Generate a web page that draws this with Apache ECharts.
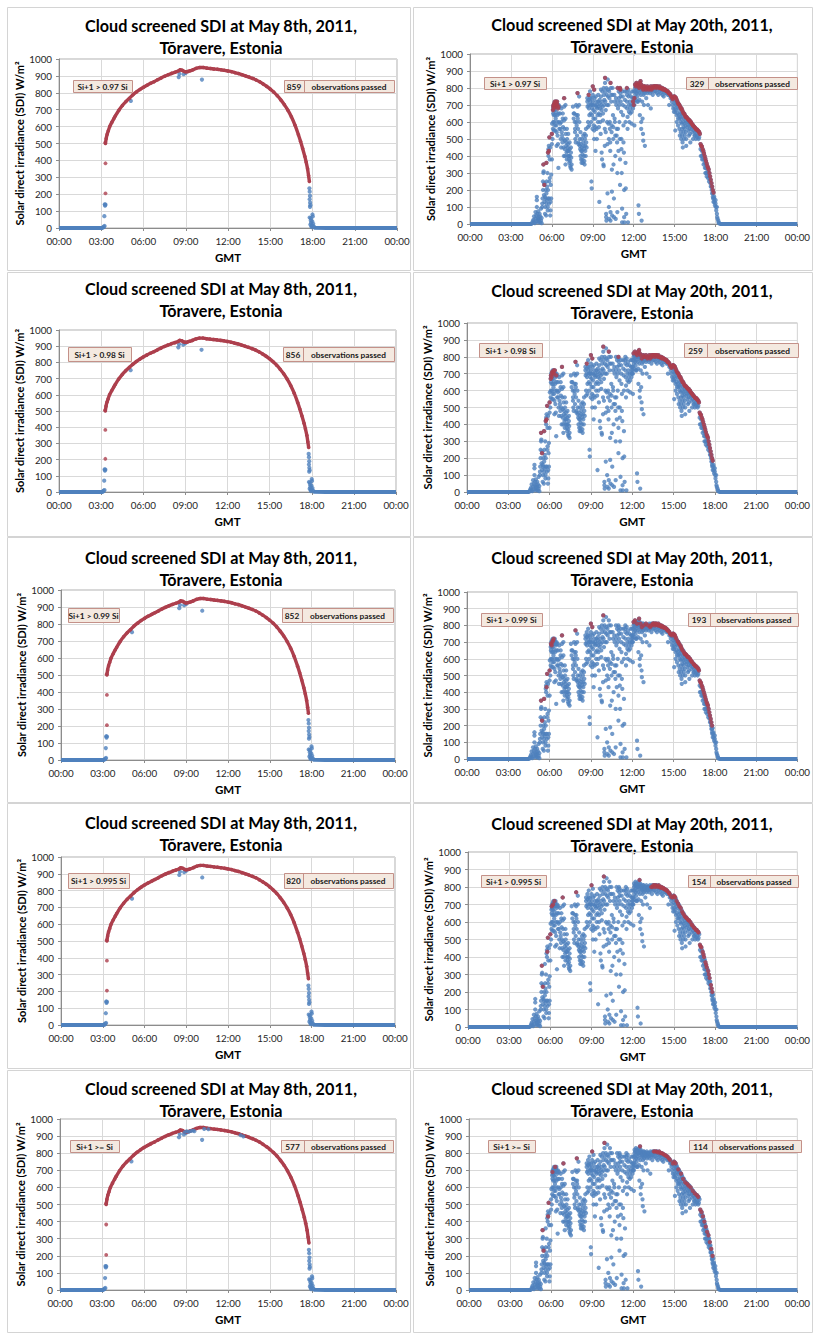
<!DOCTYPE html>
<html><head><meta charset="utf-8">
<script src="https://cdn.jsdelivr.net/npm/echarts/dist/echarts.min.js"></script>
<style>html,body{margin:0;padding:0;background:#fff}#c{width:813px;height:1334px}</style>
</head><body><div id="c"></div><script>
// ---------------- DATA ----------------
const xTickLabels = ['00:00','03:00','06:00','09:00','12:00','15:00','18:00','21:00','00:00'];
const yAxisName = 'Solar direct irradiance (SDI) W/m\u00B2';
const xAxisName = 'GMT';
const titleMay8 = 'Cloud screened SDI at May 8th, 2011,\nT\u00F5ravere, Estonia';
const titleMay20 = 'Cloud screened SDI at May 20th, 2011,\nT\u00F5ravere, Estonia';
const criteria = ['Si+1 > 0.97 Si','Si+1 > 0.98 Si','Si+1 > 0.99 Si','Si+1 > 0.995 Si','Si+1 >= Si'];
const passedMay8 = [859,856,852,820,577];
const passedMay20 = [329,259,193,154,114];
const passedLabel = 'observations passed';

// May 8th (clear day): night baselines, clear-sky curve (passed), outliers
const may8NightAM = [[0,0],[1,0],[2,0],[3.05,0],[3.15,3],[3.2,8]];
const may8NightPM = [[18.1,5],[18.2,1],[19,0],[21,0],[24,0]];
const may8Curve = [[3.3,500],[3.35,530],[3.42,555],[3.5,575],[3.6,600],[3.75,625],[3.9,648],[4.0,663],[4.25,697],[4.5,725],[4.75,748],[5.0,768],[5.25,788],[5.5,805],[5.75,820],[6.0,833],[6.25,845],[6.5,856],[6.75,866],[7.0,877],[7.25,888],[7.5,898],[7.75,907],[8.0,915],[8.25,922],[8.5,930],[8.6,936],[8.75,933],[8.9,926],[9.0,924],[9.15,926],[9.3,930],[9.5,936],[9.75,945],[10.0,950],[10.25,950],[10.5,946],[10.75,944],[11.0,941],[11.25,939],[11.5,936],[11.75,933],[12.0,929],[12.25,925],[12.5,919],[12.75,914],[13.0,907],[13.25,900],[13.5,893],[13.75,885],[14.0,876],[14.25,865],[14.5,852],[14.75,838],[15.0,822],[15.25,804],[15.5,783],[15.75,758],[16.0,730],[16.25,697],[16.5,658],[16.75,610],[17.0,552],[17.15,513],[17.3,470],[17.45,425],[17.55,390],[17.65,350],[17.72,310],[17.78,275]];
const may8RedOut = [[3.3,383],[3.3,205],[3.28,505]];
const may8BlueOut = [[3.22,70],[3.25,140],[3.27,132],[3.3,138],[3.18,8],[3.24,12],[5.1,752],[8.5,893],[8.55,912],[8.85,910],[9.0,918],[10.15,878],[17.78,235],[17.8,215],[17.82,190],[17.8,170],[17.83,150],[17.85,135],[17.82,125],[17.8,62],[17.88,58],[18.0,80],[18.02,68],[17.98,40],[17.9,30],[17.85,20],[17.92,12],[18.05,25],[18.08,8],[17.95,5],[17.88,45],[18.0,15]];
const may8BlueTopStrict = [[8.9,922],[9.05,928],[9.2,925],[9.35,930],[9.5,932],[9.6,928],[10.3,942],[10.6,940],[12.9,905],[13.1,898]];

// May 20th (cloudy day)
const may20NightAM = [[0,0],[2,0],[4.5,0],[4.55,3]];
const may20NightPM = [[18.25,4],[18.35,0],[21,0],[24,0]];
const may20Blue = [
[4.55,5],[4.6,15],[4.65,25],[4.7,10],[4.7,45],[4.75,5],[4.8,30],[4.8,70],[4.85,15],[4.85,50],[4.9,100],[4.9,140],[4.9,160],[4.95,35],[4.95,60],[5.0,10],[5.0,25],[5.0,75],[5.05,40],[5.05,15],[5.1,30],[5.1,60],[5.15,10],[5.15,45],[5.2,20],[5.2,90],[5.25,5],[5.25,35],
[5.3,100],[5.3,120],[5.32,150],[5.35,200],[5.35,250],[5.38,300],[5.4,310],[5.42,170],[5.45,130],[5.45,240],[5.5,160],[5.5,60],[5.52,100],[5.55,150],[5.55,200],[5.58,50],[5.6,120],[5.6,180],[5.62,250],[5.65,140],[5.65,220],[5.68,300],[5.7,80],[5.7,100],[5.72,150],[5.72,200],[5.75,400],[5.75,440],[5.78,460],[5.8,120],[5.8,150],[5.82,250],[5.85,270],[5.85,380],[5.88,50],[5.88,450],[5.9,80],[5.9,130],[5.92,230],[5.95,290],[5.95,150],[6.0,380],[6.0,470],[6.02,590],
[6.05,500],[6.08,560],[6.1,600],[6.1,650],[6.12,680],[6.15,550],[6.15,640],[6.18,600],[6.2,670],[6.2,690],[6.22,580],[6.25,640],[6.25,550],[6.28,620],[6.3,660],[6.3,700],[6.32,580],[6.35,540],[6.35,460],[6.38,690],[6.4,640],[6.4,600],[6.42,520],[6.45,470],[6.48,330],[6.5,700],[6.5,650],[6.52,600],[6.55,560],[6.58,690],[6.6,650],[6.6,590],[6.62,560],[6.65,500],[6.68,450],[6.7,680],[6.7,600],[6.72,540],[6.75,520],[6.78,480],[6.8,650],[6.8,620],[6.82,570],[6.85,500],[6.85,450],[6.88,400],[6.9,690],[6.9,610],[6.92,560],[6.95,490],[6.95,440],[6.98,400],[7.0,350],[7.0,700],[7.0,620],[7.02,530],[7.05,480],[7.05,460],[7.08,420],[7.1,380],[7.1,560],[7.12,500],[7.15,450],[7.15,430],[7.18,400],[7.2,530],[7.2,470],[7.22,430],[7.25,400],[7.25,380],[7.28,360],[7.3,480],[7.3,440],[7.32,400],[7.35,370],[7.35,340],[7.38,330],[7.4,450],[7.4,420],[7.42,390],[7.45,350],[7.45,320],
[7.55,690],[7.6,650],[7.6,620],[7.65,650],[7.68,600],[7.7,560],[7.7,540],[7.72,500],[7.75,480],[7.78,700],[7.8,640],[7.8,600],[7.82,580],[7.85,520],[7.88,690],[7.9,640],[7.9,620],[7.92,560],[7.95,480],[7.95,470],[8.0,750],[8.0,700],[8.02,600],[8.05,500],[8.05,460],[8.08,440],[8.1,400],[8.1,540],[8.12,470],[8.15,430],[8.15,380],[8.18,360],[8.2,500],[8.2,450],[8.22,430],[8.25,410],[8.25,380],[8.28,360],[8.3,520],[8.3,480],[8.32,460],[8.35,440],[8.35,400],[8.38,370],[8.4,350],[8.4,530],[8.42,500],[8.45,460],[8.45,430],[8.48,400],[8.5,560],[8.5,520],[8.52,480],[8.55,450],[8.6,740],[8.6,720],[8.62,690],[8.65,600],[8.65,570],[8.7,730],[8.7,700],[8.72,680],[8.75,640],[8.75,580],[8.8,780],[8.8,740],[8.82,720],[8.85,700],[8.85,650],[8.88,600],[8.9,250],[8.92,210],[8.9,740],[8.92,700],[8.95,680],[8.95,640],[8.98,560],
[9.0,760],[9.0,720],[9.02,700],[9.05,670],[9.05,620],[9.08,580],[9.1,550],[9.1,500],[9.12,740],[9.15,700],[9.15,660],[9.18,620],[9.2,570],[9.2,430],[9.22,750],[9.25,720],[9.25,690],[9.28,560],[9.3,500],[9.3,700],[9.32,680],[9.35,640],[9.38,600],[9.4,760],[9.4,720],[9.42,690],[9.45,650],[9.45,570],[9.48,130],[9.5,730],[9.5,710],[9.52,680],[9.55,640],[9.55,600],[9.58,530],[9.6,790],[9.6,750],[9.62,700],[9.65,670],[9.65,420],[9.68,380],[9.7,780],[9.7,720],[9.72,690],[9.75,650],[9.75,610],[9.78,350],[9.8,340],[9.8,800],[9.82,760],[9.85,730],[9.85,700],[9.88,560],[9.88,460],[9.9,830],[9.92,780],[9.92,720],[9.95,670],[9.95,540],[9.98,60],[9.98,40],[10.0,20],[10.0,800],[10.02,760],[10.05,700],[10.05,600],[10.08,470],[10.08,180],[10.1,850],[10.12,790],[10.12,750],[10.15,700],[10.15,590],[10.18,500],[10.18,100],[10.2,30],[10.2,780],[10.22,740],[10.25,600],[10.25,560],[10.28,480],[10.28,430],[10.3,70],[10.3,20],[10.32,800],[10.35,760],[10.35,720],[10.38,580],[10.38,540],[10.4,320],[10.4,190],[10.42,50],[10.45,800],[10.45,760],[10.48,640],[10.5,570],[10.5,500],[10.52,350],[10.55,150],[10.55,40],[10.58,760],[10.6,720],[10.6,620],[10.62,600],[10.65,520],[10.65,400],[10.68,30],
[10.7,740],[10.72,700],[10.75,560],[10.75,520],[10.78,480],[10.8,300],[10.8,70],[10.82,720],[10.85,680],[10.85,560],[10.88,430],[10.9,780],[10.92,740],[10.95,700],[10.95,600],[10.98,500],[11.0,380],[11.0,230],[11.02,770],[11.05,750],[11.05,720],[11.08,660],[11.1,500],[11.1,440],[11.12,300],[11.15,90],[11.15,10],[11.18,780],[11.2,750],[11.2,700],[11.22,640],[11.25,580],[11.25,480],[11.28,420],[11.3,200],[11.3,40],[11.32,10],[11.35,780],[11.35,730],[11.38,690],[11.4,600],[11.4,360],[11.42,210],[11.45,60],[11.48,780],[11.5,760],[11.5,720],[11.52,680],[11.55,630],[11.55,560],[11.58,10],[11.6,790],[11.62,750],[11.65,700],[11.65,660],[11.68,600],[11.7,770],[11.72,720],[11.75,680],[11.75,650],[11.8,750],[11.82,700],[11.85,660],[11.85,590],[11.9,780],[11.92,740],[11.95,700],[11.95,680],[12.0,780],[12.0,740],[12.02,720],[12.05,700],[12.05,580],
[12.1,800],[12.1,780],[12.12,760],[12.15,730],[12.2,810],[12.2,790],[12.22,770],[12.25,750],[12.25,720],[12.3,800],[12.3,780],[12.32,720],[12.35,110],[12.38,60],[12.4,800],[12.4,770],[12.42,730],[12.45,640],[12.5,810],[12.5,790],[12.52,760],[12.55,600],[12.55,560],[12.58,20],[12.6,800],[12.6,780],[12.62,720],[12.65,620],[12.68,530],[12.7,490],[12.7,780],[12.72,760],[12.75,700],[12.8,790],[12.8,770],[12.82,460],[12.9,780],[12.92,740],[13.0,790],[13.0,770],[13.05,700],[13.1,780],[13.2,790],[13.2,770],[13.25,680],[13.3,780],[13.4,790],[13.4,760],[13.5,780],[13.6,800],[13.6,780],[13.7,770],[13.8,790],[13.8,760],[13.9,780],[14.0,790],[14.0,770],[14.1,760],[14.2,780],[14.2,750],[14.3,770],[14.4,770],[14.5,760],[14.6,760],[14.6,700],[14.7,740],
[14.8,740],[14.8,720],[14.85,700],[14.9,680],[14.95,660],[15.0,730],[15.0,710],[15.02,680],[15.05,660],[15.05,550],[15.1,720],[15.1,700],[15.12,670],[15.15,640],[15.15,600],[15.2,710],[15.2,690],[15.22,650],[15.25,620],[15.25,580],[15.3,680],[15.32,640],[15.35,620],[15.35,560],[15.38,520],[15.4,690],[15.4,660],[15.42,630],[15.45,600],[15.45,540],[15.48,500],[15.5,650],[15.5,620],[15.52,590],[15.55,560],[15.55,520],[15.58,480],[15.6,450],[15.6,640],[15.62,600],[15.65,570],[15.65,540],[15.68,500],[15.7,620],[15.72,590],[15.75,560],[15.75,520],[15.8,610],[15.8,580],[15.82,540],[15.85,500],[15.85,460],[15.9,600],[15.95,570],[16.0,600],[16.0,580],[16.02,550],[16.05,520],[16.1,590],[16.1,560],[16.12,530],[16.15,480],[16.2,580],[16.25,560],[16.3,570],[16.3,540],[16.35,500],[16.4,550],[16.45,520],[16.5,540],[16.5,520],[16.55,500],[16.6,530],[16.65,510],[16.7,520],[16.75,500],[16.8,510],
[16.9,440],[16.92,400],[17.0,430],[17.0,400],[17.02,380],[17.1,410],[17.1,380],[17.12,350],[17.2,380],[17.2,360],[17.22,330],[17.25,300],[17.3,350],[17.3,330],[17.32,300],[17.35,280],[17.4,320],[17.42,300],[17.45,270],[17.5,300],[17.5,280],[17.52,250],[17.6,260],[17.62,240],[17.65,220],[17.7,220],[17.72,200],[17.75,180],[17.8,180],[17.8,160],[17.82,150],[17.85,130],[17.9,160],[17.9,150],[17.92,130],[17.95,110],[18.0,140],[18.0,120],[18.02,100],[18.05,80],[18.1,100],[18.1,60],[18.12,40],[18.15,30],[18.2,20],[18.22,10],[18.25,5]
];
// passed points: [time, SDI, number of criteria (loosest first) that still pass it]
const may20Passed = [
[5.38,350,5],[5.45,230,5],[5.6,360,3],[5.72,420,2],[5.78,430,5],[5.82,510,5],[6.0,530,4],
[6.08,670,2],[6.1,690,5],[6.12,700,1],[6.15,680,3],[6.18,710,2],[6.2,700,4],[6.22,720,1],[6.25,710,3],[6.28,690,1],[6.3,720,5],[6.32,700,2],[6.35,710,1],[6.38,720,2],[6.4,700,1],[6.45,680,1],[6.48,690,2],
[6.9,740,5],[7.88,770,5],[8.7,760,2],[9.0,810,5],[9.1,790,3],[9.9,860,5],[10.3,830,2],[10.82,800,1],[11.0,800,2],[11.02,790,1],[11.5,800,1],
[11.95,720,1],[12.0,700,1],[12.05,740,1],[12.1,820,3],[12.15,810,1],[12.2,830,3],[12.25,820,1],[12.3,820,2],[12.35,810,3],[12.4,800,1],[12.45,830,2],[12.5,840,5],[12.55,820,2],[12.6,810,3],[12.65,800,1],[12.7,790,3],[12.75,810,1],[12.8,810,2],[12.85,800,3],[12.9,790,1],[12.95,800,2],[13.0,810,3],[13.05,800,1],[13.1,790,2],[13.15,800,3],[13.2,800,1],[13.25,810,2],[13.3,790,3],[13.35,800,4],[13.4,810,2],[13.45,800,4],[13.5,810,5],[13.55,810,3],[13.6,810,5],[13.65,800,4],[13.7,810,5],[13.75,810,3],[13.8,805,5],[13.85,800,4],[13.9,810,5],[13.95,800,3],[14.0,800,5],[14.05,795,4],[14.1,800,5],[14.15,790,3],[14.2,795,5],[14.25,790,4],[14.3,790,5],[14.35,785,3],[14.4,785,5],[14.45,780,4],[14.5,780,5],[14.55,770,3],[14.6,770,5],[14.65,765,4],[14.7,760,5],[14.75,750,3],[14.8,745,4],[14.85,735,2],[14.9,740,5],[14.95,750,3],[15.0,750,5],[15.05,745,4],[15.1,740,5],[15.15,730,3],[15.2,720,4],[15.25,710,2],[15.3,705,5],[15.35,700,3],[15.4,690,4],[15.45,680,2],[15.5,680,5],[15.55,670,3],[15.6,660,4],[15.65,650,5],[15.7,650,2],[15.75,640,4],[15.8,630,5],[15.85,630,3],[15.9,625,4],[15.95,620,5],[16.0,615,3],[16.05,610,5],[16.1,610,4],[16.15,600,2],[16.2,600,5],[16.25,590,3],[16.3,585,4],[16.35,580,5],[16.4,575,2],[16.45,570,4],[16.5,565,5],[16.55,560,3],[16.6,555,4],[16.65,555,5],[16.7,550,2],[16.75,545,5],[16.8,540,4],[16.85,530,3],[16.9,470,5],[16.95,460,4],[17.0,455,5],[17.05,440,3],[17.1,430,5],[17.15,415,4],[17.2,400,5],[17.25,385,3],[17.3,370,5],[17.35,355,4],[17.4,340,5],[17.45,330,3],[17.5,320,5],[17.55,300,4],[17.6,280,5],[17.65,260,3],[17.7,240,5],[17.75,220,4],[17.8,200,5],[17.85,185,2]
];

// ---------------- LAYOUT ----------------
const FONT = 'Lato, "Liberation Sans", sans-serif';
const BLUE = '#4f81bd', RED = '#ad3f4d';
const gridBoxes = [
 [59,59,338,169],[470,54,332,170],
 [59,330,337,162],[467,323,335,169],
 [61,590,334,170],[467,592,335,167],
 [61,857,334,168],[468,852,334,175],
 [60,1119,336,171],[469,1119,333,171]];
const titleCX = [221,632];
const titleCY = [25,24,288,290,557,557,822,823,1088,1088];
const cellRows = [[7,263],[272,264],[537,265],[803,265],[1070,262]];
const cellCols = [[7,403],[413,399]];
const critBoxes = [[73,80,59,12],[484,77,62,12],[68,347,63,14],[479,343,63,14],[68,608,51,14],[481,613,61,13],[68,873,61,15],[481,875,65,12],[70,1140,49,12],[488,1140,47,12]];
const passBoxes = [[284,80,110,12,20],[686,77,111,12,22],[283,347,111,14,20],[684,343,114,14,23],[282,608,111,14,20],[688,613,110,13,22],[284,873,109,15,19],[688,875,110,12,22],[281,1140,112,12,23],[689,1140,112,12,23]];

const option = {animation:false, backgroundColor:'#fff', grid:[], xAxis:[], yAxis:[], series:[], graphic:[]};

cellRows.forEach(r => cellCols.forEach(c => {
  option.graphic.push({type:'rect', silent:true, z:-10, shape:{x:c[0]+0.5,y:r[0]+0.5,width:c[1],height:r[1]}, style:{fill:'none', stroke:'#d4d4d4', lineWidth:1}});
}));

const axisText = {fontFamily:FONT, fontSize:9.8, color:'#262626'};
for (let i = 0; i < 10; i++) {
  const g = gridBoxes[i], col = i % 2, row = Math.floor(i / 2);
  option.grid.push({left:g[0], top:g[1], width:g[2], height:g[3], show:true, borderColor:'#b0b0b0', borderWidth:1});
  option.xAxis.push({type:'value', gridIndex:i, min:0, max:24, interval:3,
    name:xAxisName, nameLocation:'middle', nameGap:23,
    nameTextStyle:{fontFamily:FONT, fontWeight:'bold', fontSize:11.5, color:'#000'},
    axisLine:{show:true, onZero:false, lineStyle:{color:'#8c8c8c'}},
    axisTick:{show:true, length:3, lineStyle:{color:'#8c8c8c'}},
    axisLabel:Object.assign({margin:8, showMinLabel:true, showMaxLabel:true, formatter:v => xTickLabels[Math.round(v/3)]}, axisText),
    splitLine:{show:true, lineStyle:{color:'#d9d9d9', width:1}}});
  option.yAxis.push({type:'value', gridIndex:i, min:0, max:1000, interval:100,
    name:yAxisName, nameLocation:'middle', nameGap:32, nameRotate:90,
    nameTextStyle:{fontFamily:FONT, fontWeight:'bold', fontSize:11, color:'#000'},
    axisLine:{show:true, lineStyle:{color:'#8c8c8c'}},
    axisTick:{show:true, length:3, lineStyle:{color:'#8c8c8c'}},
    axisLabel:Object.assign({margin:7, showMinLabel:true, showMaxLabel:true, formatter:v => String(v)}, axisText),
    splitLine:{show:true, lineStyle:{color:'#d9d9d9', width:1}}});

  // title
  option.graphic.push({type:'text', silent:true, x:titleCX[col], y:titleCY[i]-11,
    style:{text: col === 0 ? titleMay8 : titleMay20, fontFamily:FONT, fontWeight:'bold', fontSize:16.2, lineHeight:22, fill:'#000', align:'center', verticalAlign:'top'}});
  // annotation boxes
  const cb = critBoxes[i], pb = passBoxes[i];
  const boxStyle = {fill:'#f4e9e0', stroke:'#c49189', lineWidth:1};
  const boxText = {fontFamily:FONT, fontWeight:'bold', fontSize:8.3, fill:'#1a1a1a', align:'center', verticalAlign:'middle'};
  option.graphic.push({type:'rect', silent:true, z:50, shape:{x:cb[0]+0.5,y:cb[1]+0.5,width:cb[2],height:cb[3]}, style:boxStyle});
  option.graphic.push({type:'text', silent:true, z:51, x:cb[0]+cb[2]/2, y:cb[1]+cb[3]/2+0.5, style:Object.assign({text:criteria[row]}, boxText)});
  option.graphic.push({type:'rect', silent:true, z:50, shape:{x:pb[0]+0.5,y:pb[1]+0.5,width:pb[2],height:pb[3]}, style:boxStyle});
  option.graphic.push({type:'line', silent:true, z:51, shape:{x1:pb[0]+pb[4]+0.5,y1:pb[1]+0.5,x2:pb[0]+pb[4]+0.5,y2:pb[1]+pb[3]+0.5}, style:{stroke:'#c49189', lineWidth:1}});
  option.graphic.push({type:'text', silent:true, z:51, x:pb[0]+pb[4]/2, y:pb[1]+pb[3]/2+0.5, style:Object.assign({text:String(col === 0 ? passedMay8[row] : passedMay20[row])}, boxText)});
  option.graphic.push({type:'text', silent:true, z:51, x:pb[0]+pb[4]+(pb[2]-pb[4])/2, y:pb[1]+pb[3]/2+0.5, style:Object.assign({text:passedLabel}, boxText)});

  const ax = {xAxisIndex:i, yAxisIndex:i};
  const night = (d) => Object.assign({type:'line', data:d, symbol:'none', lineStyle:{color:BLUE, width:4}, z:2, silent:true}, ax);
  if (col === 0) {
    option.series.push(night(may8NightAM), night(may8NightPM));
    option.series.push(Object.assign({type:'scatter', data:may8BlueOut, symbolSize:4.2, itemStyle:{color:BLUE}, z:3}, ax));
    option.series.push(Object.assign({type:'line', data:may8Curve, smooth:0.3, symbol:'circle', symbolSize:3.5, showSymbol:true, lineStyle:{color:RED, width:3.4}, itemStyle:{color:RED}, z:4}, ax));
    option.series.push(Object.assign({type:'scatter', data:may8RedOut, symbolSize:3.8, itemStyle:{color:RED}, z:5}, ax));
    if (row === 4) option.series.push(Object.assign({type:'scatter', data:may8BlueTopStrict, symbolSize:4, itemStyle:{color:BLUE}, z:6}, ax));
  } else {
    option.series.push(night(may20NightAM), night(may20NightPM));
    const allPts = may20Blue.concat(may20Passed.map(p => [p[0], p[1]]));
    option.series.push(Object.assign({type:'scatter', data:allPts, symbolSize:4.3, itemStyle:{color:BLUE}, z:3}, ax));
    const passed = may20Passed.filter(p => p[2] >= row + 1).map(p => [p[0], p[1]]);
    option.series.push(Object.assign({type:'scatter', data:passed, symbolSize:4.3, itemStyle:{color:RED}, z:4}, ax));
  }
}

const chart = echarts.init(document.getElementById('c'), null, {renderer:'svg', width:813, height:1334});
chart.setOption(option);
</script></body></html>
